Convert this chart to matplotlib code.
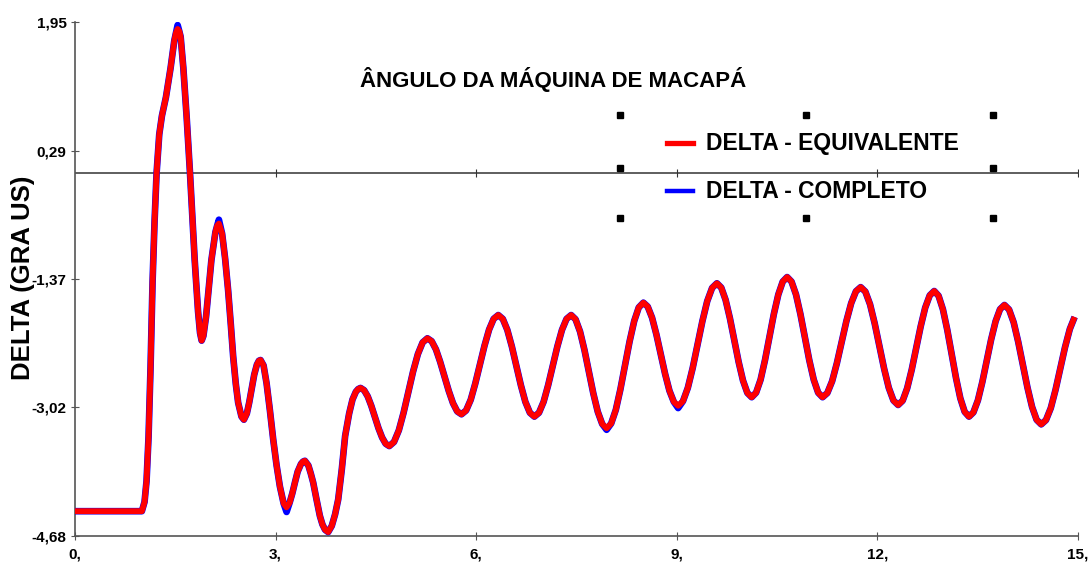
import matplotlib
matplotlib.use("Agg")
import matplotlib.pyplot as plt
from matplotlib.lines import Line2D

# transitorio inicial: tempo (s) e delta (graus)
tempo_ini = [0.0, 1.0, 1.04, 1.07, 1.10, 1.13, 1.16, 1.19, 1.22, 1.26,
             1.30, 1.36, 1.43, 1.485, 1.51, 1.535, 1.56, 1.58, 1.62, 1.67,
             1.72, 1.79, 1.84, 1.87, 1.894, 1.92, 1.96, 2.00, 2.04, 2.10,
             2.125, 2.152, 2.20, 2.245, 2.29, 2.33, 2.366, 2.405, 2.44, 2.49,
             2.526, 2.57, 2.605, 2.64, 2.68, 2.72, 2.75, 2.775, 2.82, 2.865,
             2.915, 2.965, 3.015, 3.064, 3.12, 3.164, 3.21, 3.25, 3.289, 3.33,
             3.38, 3.41, 3.438, 3.49, 3.525, 3.562, 3.61, 3.662, 3.70, 3.74,
             3.786, 3.84, 3.89, 3.936, 3.99, 4.04, 4.10, 4.15, 4.20, 4.235]
delta_ini = [-4.36, -4.36, -4.24, -3.97, -3.40, -2.50, -1.40, -0.62, 0.00, 0.50,
             0.74, 0.98, 1.36, 1.71, 1.81, 1.86, 1.83, 1.76, 1.36, 0.72,
             0.00, -1.12, -1.78, -2.06, -2.16, -2.10, -1.85, -1.48, -1.12, -0.76,
             -0.68, -0.65, -0.78, -1.10, -1.51, -1.95, -2.37, -2.72, -2.96, -3.14,
             -3.18, -3.10, -2.96, -2.79, -2.60, -2.47, -2.42, -2.41, -2.48, -2.71,
             -3.06, -3.44, -3.77, -4.04, -4.26, -4.31, -4.25, -4.13, -3.99, -3.85,
             -3.75, -3.72, -3.71, -3.77, -3.87, -3.99, -4.20, -4.42, -4.53, -4.60,
             -4.63, -4.55, -4.40, -4.21, -3.82, -3.39, -3.10, -2.92, -2.82, -2.785]

# oscilacao sustentada, uma linha por meio ciclo
tempo_osc = [4.27,
             4.324, 4.378, 4.431, 4.485, 4.539, 4.593, 4.646, 4.70,
             4.771, 4.843, 4.914, 4.985, 5.056, 5.128, 5.199, 5.27,
             5.334, 5.398, 5.461, 5.525, 5.589, 5.653, 5.716, 5.78,
             5.849, 5.918, 5.986, 6.055, 6.124, 6.193, 6.261, 6.33,
             6.398, 6.465, 6.533, 6.60, 6.668, 6.735, 6.803, 6.87,
             6.939, 7.008, 7.076, 7.145, 7.214, 7.283, 7.351, 7.42,
             7.486, 7.553, 7.619, 7.685, 7.751, 7.818, 7.884, 7.95,
             8.019, 8.088, 8.156, 8.225, 8.294, 8.363, 8.431, 8.50,
             8.565, 8.63, 8.695, 8.76, 8.825, 8.89, 8.955, 9.02,
             9.093, 9.165, 9.238, 9.31, 9.383, 9.455, 9.528, 9.60,
             9.665, 9.73, 9.795, 9.86, 9.925, 9.99, 10.055, 10.12,
             10.186, 10.253, 10.319, 10.385, 10.451, 10.518, 10.584, 10.65,
             10.716, 10.783, 10.849, 10.915, 10.981, 11.048, 11.114, 11.18,
             11.251, 11.323, 11.394, 11.465, 11.536, 11.608, 11.679, 11.75,
             11.82, 11.89, 11.96, 12.03, 12.10, 12.17, 12.24, 12.31,
             12.378, 12.445, 12.513, 12.58, 12.648, 12.715, 12.783, 12.85,
             12.915, 12.98, 13.045, 13.11, 13.175, 13.24, 13.305, 13.37,
             13.436, 13.503, 13.569, 13.635, 13.701, 13.768, 13.834, 13.90,
             13.969, 14.038, 14.106, 14.175, 14.244, 14.313, 14.381, 14.45,
             14.521, 14.593, 14.664, 14.735, 14.806, 14.878, 14.95]
delta_osc = [-2.77,
             -2.80, -2.88, -3.00, -3.145, -3.29, -3.41, -3.49, -3.52,
             -3.467, -3.317, -3.090, -2.825, -2.559, -2.333, -2.183, -2.13,
             -2.167, -2.273, -2.433, -2.62, -2.807, -2.967, -3.073, -3.11,
             -3.061, -2.923, -2.714, -2.47, -2.226, -2.017, -1.879, -1.83,
             -1.88, -2.021, -2.235, -2.485, -2.735, -2.949, -3.09, -3.14,
             -3.09, -2.949, -2.735, -2.485, -2.235, -2.021, -1.88, -1.83,
             -1.885, -2.043, -2.281, -2.56, -2.839, -3.077, -3.234, -3.29,
             -3.228, -3.053, -2.79, -2.48, -2.171, -1.907, -1.732, -1.67,
             -1.721, -1.864, -2.081, -2.335, -2.589, -2.806, -2.949, -3.00,
             -2.94, -2.769, -2.512, -2.21, -1.908, -1.651, -1.48, -1.42,
             -1.476, -1.635, -1.874, -2.155, -2.436, -2.675, -2.834, -2.89,
             -2.831, -2.664, -2.411, -2.115, -1.819, -1.566, -1.399, -1.34,
             -1.399, -1.566, -1.819, -2.115, -2.411, -2.664, -2.831, -2.89,
             -2.836, -2.683, -2.451, -2.18, -1.909, -1.677, -1.524, -1.47,
             -1.528, -1.692, -1.94, -2.23, -2.52, -2.768, -2.932, -2.99,
             -2.934, -2.775, -2.536, -2.255, -1.974, -1.735, -1.576, -1.52,
             -1.582, -1.757, -2.021, -2.33, -2.639, -2.903, -3.078, -3.14,
             -3.085, -2.93, -2.695, -2.42, -2.145, -1.91, -1.755, -1.70,
             -1.759, -1.925, -2.176, -2.47, -2.764, -3.015, -3.181, -3.24,
             -3.185, -3.03, -2.795, -2.52, -2.245, -2.01, -1.855]

assert len(tempo_ini) == len(delta_ini) and len(tempo_osc) == len(delta_osc)
tempo = tempo_ini + tempo_osc
delta_equivalente = delta_ini + delta_osc

# onde o caso completo se afasta do equivalente (tempo: valor)
completo_difere = {1.535: 1.91, 2.152: -0.60, 3.164: -4.37, 7.95: -3.31, 9.02: -3.03}
delta_completo = [completo_difere.get(t, v) for t, v in zip(tempo, delta_equivalente)]

yticks = [1.95, 0.29, -1.37, -3.02, -4.68]
ytick_labels = ["1,95", "0,29", "-1,37", "-3,02", "-4,68"]
xticks = [0, 3, 6, 9, 12, 15]
xtick_labels = ["0,", "3,", "6,", "9,", "12,", "15,"]

fonte = ["Liberation Sans", "DejaVu Sans"]

W, H = 1090, 569
fig = plt.figure(figsize=(W / 100, H / 100), dpi=100)
ax = fig.add_axes([75 / W, 33 / H, (1078 - 75) / W, (536 - 22) / H])

ax.plot(tempo, delta_completo, color="#0000ff", lw=4.8, solid_joinstyle="round",
        solid_capstyle="butt", zorder=3)
ax.plot(tempo, delta_equivalente, color="#ff0000", lw=4.2, solid_joinstyle="round",
        solid_capstyle="butt", zorder=4)

ax.axhline(0, color="#333333", lw=1.1, zorder=2)
ax.plot(xticks[1:], [0] * (len(xticks) - 1), ls="", marker="|", ms=6, mew=0.8,
        color="#333333", zorder=2)

ax.set_xlim(0, 15)
ax.set_ylim(-4.68, 1.95)
ax.set_xticks(xticks)
ax.set_xticklabels(xtick_labels)
ax.set_yticks(yticks)
ax.set_yticklabels(ytick_labels)
for s in ["top", "right"]:
    ax.spines[s].set_visible(False)
for s in ["left", "bottom"]:
    ax.spines[s].set_color("#555555")
    ax.spines[s].set_linewidth(1.2)
ax.tick_params(direction="inout", length=6, width=0.8, color="#555555")
ax.tick_params(axis="y", pad=3)
ax.tick_params(axis="x", pad=5)
for lab in ax.get_xticklabels() + ax.get_yticklabels():
    lab.set_family(fonte)
    lab.set_fontweight("bold")
    lab.set_fontsize(11)

fig.text(553 / W, 1 - 80 / H, "ÂNGULO DA MÁQUINA DE MACAPÁ", ha="center",
         va="center", family=fonte, fontweight="bold", fontsize=16)
fig.text(23 / W, 1 - 278 / H, "DELTA (GRA US)", rotation=90, ha="center",
         va="center", family=fonte, fontweight="bold", fontsize=18.5)

# legenda
fig.add_artist(Line2D([667 / W, 693 / W], [1 - 143 / H, 1 - 143 / H],
                      color="#ff0000", lw=3.8))
fig.add_artist(Line2D([667 / W, 693 / W], [1 - 191 / H, 1 - 191 / H],
                      color="#0000ff", lw=3.2))
fig.text(706 / W, 1 - 143 / H, "DELTA - EQUIVALENTE", ha="left", va="center",
         family=fonte, fontweight="bold", fontsize=16.5)
fig.text(706 / W, 1 - 191 / H, "DELTA - COMPLETO", ha="left", va="center",
         family=fonte, fontweight="bold", fontsize=16.5)
hx = [620, 806, 993, 620, 993, 620, 806, 993]
hy = [115, 115, 115, 168, 168, 218, 218, 218]
for x, y in zip(hx, hy):
    fig.add_artist(Line2D([x / W], [1 - y / H], ls="", marker="s", ms=4,
                          color="black"))

fig.savefig("out.png", dpi=100, facecolor="white")
